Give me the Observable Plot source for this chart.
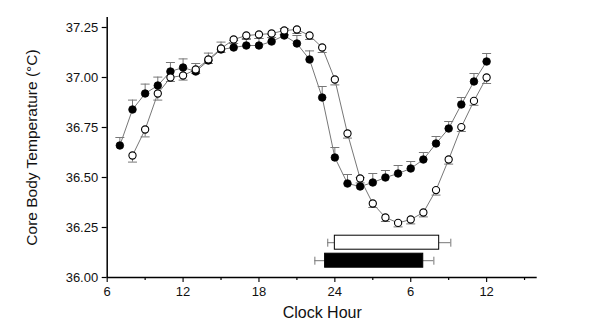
<!DOCTYPE html>
<html>
<head>
<meta charset="utf-8">
<script src="https://cdn.jsdelivr.net/npm/d3@7"></script>
<script src="https://cdn.jsdelivr.net/npm/@observablehq/plot@0.6"></script>
<style>
  html, body { margin: 0; padding: 0; background: #fff; }
  #chart { width: 600px; height: 333px; }
  svg { font-family: "Liberation Sans", Arial, sans-serif; }
</style>
</head>
<body>
<div id="chart"></div>
<script>
// Clock hour (hours past midnight of day 1; 24+ = next day)
const filledHours = [7,8,9,10,11,12,13,14,15,16,17,18,19,20,21,22,23,24,25,26,27,28,29,30,31,32,33,34,35,36];
const filledTemp  = [36.66,36.84,36.92,36.96,37.03,37.05,37.03,37.085,37.14,37.15,37.16,37.16,37.18,37.21,37.17,37.09,36.90,36.60,36.47,36.455,36.475,36.50,36.52,36.545,36.59,36.67,36.745,36.865,36.98,37.08];
const filledSE    = [0.04,0.047,0.047,0.042,0.045,0.043,0.04,0.037,0.037,0.035,0.035,0.035,0.035,0.035,0.04,0.043,0.055,0.05,0.045,0.045,0.045,0.035,0.04,0.035,0.035,0.035,0.035,0.035,0.04,0.04];

const openHours = [8,9,10,11,12,13,14,15,16,17,18,19,20,21,22,23,24,25,26,27,28,29,30,31,32,33,34,35,36];
const openTemp  = [36.61,36.74,36.92,37.00,37.01,37.04,37.09,37.145,37.19,37.21,37.215,37.22,37.235,37.24,37.21,37.15,36.99,36.72,36.495,36.37,36.30,36.273,36.29,36.325,36.437,36.59,36.752,36.883,37.0];
const openSE    = [0.033,0.037,0.033,0.02,0.023,0.02,0.02,0.02,0.02,0.02,0.02,0.02,0.02,0.02,0.02,0.025,0.027,0.023,0.022,0.02,0.02,0.02,0.022,0.022,0.025,0.023,0.022,0.022,0.03];

// Sleep episodes: onset / offset (clock hour) with SD
const sleepGroups   = ["open", "filled"];
const sleepOnset    = [24.0, 23.23];
const sleepOffset   = [32.25, 30.99];
const sleepOnsetSD  = [0.56, 0.81];
const sleepOffsetSD = [0.92, 0.84];
const sleepLevel    = [36.174, 36.084]; // vertical placement (°C units)

const yTicks = [36.00, 36.25, 36.50, 36.75, 37.00, 37.25];
const xMajorTicks = [6, 12, 18, 24, 30, 36];
const xMinorTicks = [9, 15, 21, 27, 33, 39];
const xTickLabels = ["6", "12", "18", "24", "6", "12"];

const filled = filledHours.map((h, i) => ({hour: h, temp: filledTemp[i], se: filledSE[i]}));
const open = openHours.map((h, i) => ({hour: h, temp: openTemp[i], se: openSE[i]}));
const sleep = sleepGroups.map((g, i) => ({
  group: g, onset: sleepOnset[i], offset: sleepOffset[i],
  lo: sleepOnset[i] - sleepOnsetSD[i], hi: sleepOffset[i] + sleepOffsetSD[i],
  y: sleepLevel[i]
}));

const hCap = {draw(ctx, size) { const r = Math.sqrt(size / Math.PI); ctx.moveTo(-r, 0); ctx.lineTo(r, 0); }};
const vCap = {draw(ctx, size) { const r = Math.sqrt(size / Math.PI); ctx.moveTo(0, -r); ctx.lineTo(0, r); }};

const gray = "#777";
const halfBar = 0.035;

const chart = Plot.plot({
  width: 600,
  height: 333,
  marginLeft: 106.7,
  marginRight: 63.3,
  marginTop: 17,
  marginBottom: 56,
  style: {fontFamily: "Liberation Sans, Arial, sans-serif", background: "#fff"},
  x: {domain: [6, 40]},
  y: {domain: [36, 37.3]},
  marks: [
    // axes
    Plot.axisY({ticks: yTicks, tickFormat: d3.format(".2f"), tickSize: 5, tickPadding: 4, fontSize: 13, label: null, stroke: "#000", strokeWidth: 1.2, color: "#111"}),
    Plot.axisX({ticks: xMajorTicks, tickFormat: (d) => xTickLabels[xMajorTicks.indexOf(d)], tickSize: 5, tickPadding: 4, fontSize: 13, label: null, strokeWidth: 1.2, color: "#111"}),
    Plot.axisX({ticks: xMinorTicks, tickSize: 3, text: null, label: null, strokeWidth: 1.2}),
    Plot.ruleX([6], {stroke: "#000", strokeWidth: 1.5}),
    Plot.ruleY([36], {stroke: "#000", strokeWidth: 1.5}),
    // connecting lines
    Plot.line(filled, {x: "hour", y: "temp", stroke: gray, strokeWidth: 1}),
    Plot.line(open, {x: "hour", y: "temp", stroke: gray, strokeWidth: 1}),
    // error bars (filled: up, open: down)
    Plot.ruleX(filled, {x: "hour", y1: "temp", y2: (d) => d.temp + d.se, stroke: gray, strokeWidth: 1}),
    Plot.dot(filled, {x: "hour", y: (d) => d.temp + d.se, symbol: hCap, r: 4.5, stroke: gray, strokeWidth: 1, fill: "none"}),
    Plot.ruleX(open, {x: "hour", y1: "temp", y2: (d) => d.temp - d.se, stroke: gray, strokeWidth: 1}),
    Plot.dot(open, {x: "hour", y: (d) => d.temp - d.se, symbol: hCap, r: 4.5, stroke: gray, strokeWidth: 1, fill: "none"}),
    // points
    Plot.dot(filled, {x: "hour", y: "temp", r: 3.8, fill: "#000", stroke: "#000", strokeWidth: 0.8}),
    Plot.dot(open, {x: "hour", y: "temp", r: 3.6, fill: "#fff", stroke: "#000", strokeWidth: 1.1}),
    // sleep bars
    Plot.ruleY(sleep, {y: "y", x1: "lo", x2: "onset", stroke: gray, strokeWidth: 1}),
    Plot.ruleY(sleep, {y: "y", x1: "offset", x2: "hi", stroke: gray, strokeWidth: 1}),
    Plot.dot(sleep, {x: "lo", y: "y", symbol: vCap, r: 4, stroke: gray, strokeWidth: 1, fill: "none"}),
    Plot.dot(sleep, {x: "hi", y: "y", symbol: vCap, r: 4, stroke: gray, strokeWidth: 1, fill: "none"}),
    Plot.rect(sleep, {x1: "onset", x2: "offset", y1: (d) => d.y - halfBar, y2: (d) => d.y + halfBar,
      fill: (d) => d.group === "filled" ? "#000" : "#fff", stroke: "#000", strokeWidth: 1}),
    // axis titles
    Plot.text(["Core Body Temperature (°C)"], {frameAnchor: "left", textAnchor: "middle", dx: -75, rotate: -90, fontSize: 15.5, fill: "#111"}),
    Plot.text(["Clock Hour"], {frameAnchor: "bottom", dy: 40, fontSize: 16, fill: "#111"})
  ]
});
document.getElementById("chart").appendChild(chart);
</script>
</body>
</html>
